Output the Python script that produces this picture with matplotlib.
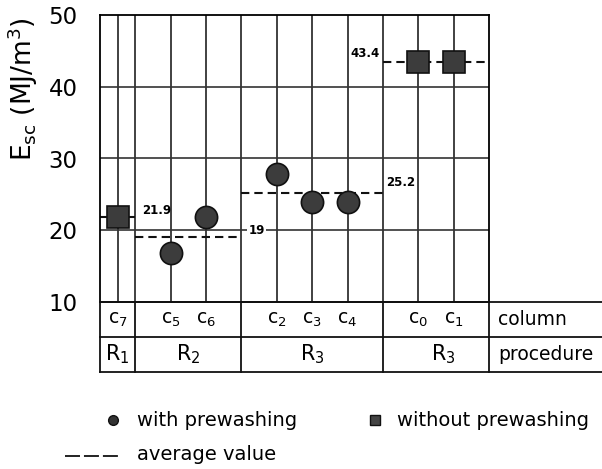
import matplotlib
matplotlib.use("Agg")
import matplotlib.pyplot as plt

plt.rcParams['font.family'] = ['DejaVu Sans']

# columns (name, position in grid units) and measured energies
col_names = ["c$_7$", "c$_5$", "c$_6$", "c$_2$", "c$_3$", "c$_4$", "c$_0$", "c$_1$"]
col_pos = [0.5, 2, 3, 5, 6, 7, 9, 10]
esc = [21.9, 16.8, 21.9, 27.8, 23.9, 23.9, 43.4, 43.4]
prewashed = [False, True, True, True, True, True, False, False]

# procedure groups: (label, left edge, right edge, average)
proc_names = ["R$_1$", "R$_2$", "R$_3$", "R$_3$"]
proc_left = [0, 1, 4, 8]
proc_right = [1, 4, 8, 11]
proc_avg = [21.9, 19, 25.2, 43.4]
avg_labels = ["21.9", "19", "25.2", "43.4"]

yticks = [10, 20, 30, 40, 50]

W, H = 602, 469
fig = plt.figure(figsize=(W / 100, H / 100), dpi=100)

# main grid
ax = fig.add_axes([100 / W, (H - 302) / H, 389 / W, 287 / H])
ax.set_xlim(0, 11)
ax.set_ylim(10, 50)
for y in yticks[1:-1]:
    ax.axhline(y, color="#222", lw=1.1, zorder=1)
for x in col_pos + proc_left[1:]:
    ax.axvline(x, color="#333", lw=1.3, zorder=1)
for s in ax.spines.values():
    s.set_linewidth(1.3)
ax.set_xticks([])
ax.set_yticks(yticks)
ax.tick_params(axis="y", length=0, pad=16, labelsize=16.5)
ax.set_ylabel(r"E$_{\mathrm{sc}}$ (MJ/m$^3$)", fontsize=19)
ax.yaxis.set_label_coords(-0.155, 0.742)

# average lines
for l, r, a in zip(proc_left, proc_right, proc_avg):
    ax.plot([l, r], [a, a], color="#111", lw=1.5, ls=(0, (4, 2.4)), zorder=2)

# points
for x, v, p in zip(col_pos, esc, prewashed):
    ax.plot(x, v, marker="o" if p else "s", ms=16, color="#3c3c3c",
            mec="#111", mew=1.2, zorder=3, clip_on=False)

# average value labels
ax.text(1.2, 22.8, avg_labels[0], fontsize=8.5, fontweight="bold", va="center", ha="left")
ax.text(4.2, 20, avg_labels[1], fontsize=8.5, fontweight="bold", va="center", ha="left",
        bbox=dict(fc="white", ec="none", pad=1), zorder=2)
ax.text(8.1, 26.7, avg_labels[2], fontsize=8.5, fontweight="bold", va="center", ha="left")
ax.text(7.92, 44.7, avg_labels[3], fontsize=8.5, fontweight="bold", va="center", ha="right")

# table below the grid
tb = fig.add_axes([100 / W, (H - 372) / H, 502 / W, 70 / H])
tb.set_xlim(0, 11 * 502 / 389)
tb.set_ylim(0, 2)
tb.axis("off")
for y in [0, 1, 2]:
    tb.plot([0, 11 * 502 / 389], [y, y], color="#111", lw=1.3, clip_on=False)
for x in [0] + proc_right:
    tb.plot([x, x], [0, 2], color="#111", lw=1.3, clip_on=False)
for x, n in zip(col_pos, col_names):
    tb.text(x, 1.5, n, ha="center", va="center", fontsize=13.5)
for l, r, n in zip(proc_left, proc_right, proc_names):
    tb.text((l + r) / 2 + (0.2 if l == 8 else 0), 0.5, n, ha="center", va="center", fontsize=15)
tb.text(11.25, 1.5, "column", ha="left", va="center", fontsize=13.5)
tb.text(11.25, 0.5, "procedure", ha="left", va="center", fontsize=13.5)

# legend drawn in pixel space
lg = fig.add_axes([0, 0, 1, 1])
lg.set_xlim(0, W)
lg.set_ylim(H, 0)
lg.axis("off")
lg.plot(113, 420, marker="o", ms=7, color="#333", mec="#111")
lg.text(137, 420, "with prewashing", fontsize=14, va="center", ha="left")
lg.plot(375, 420, marker="s", ms=7, color="#444", mec="#111")
lg.text(397, 420, "without prewashing", fontsize=14, va="center", ha="left")
lg.plot([65, 120], [456, 456], color="#111", lw=1.3, ls=(0, (8.3, 2.2)))
lg.text(137, 455, "average value", fontsize=14, va="center", ha="left")

fig.savefig("out.png", dpi=100)
